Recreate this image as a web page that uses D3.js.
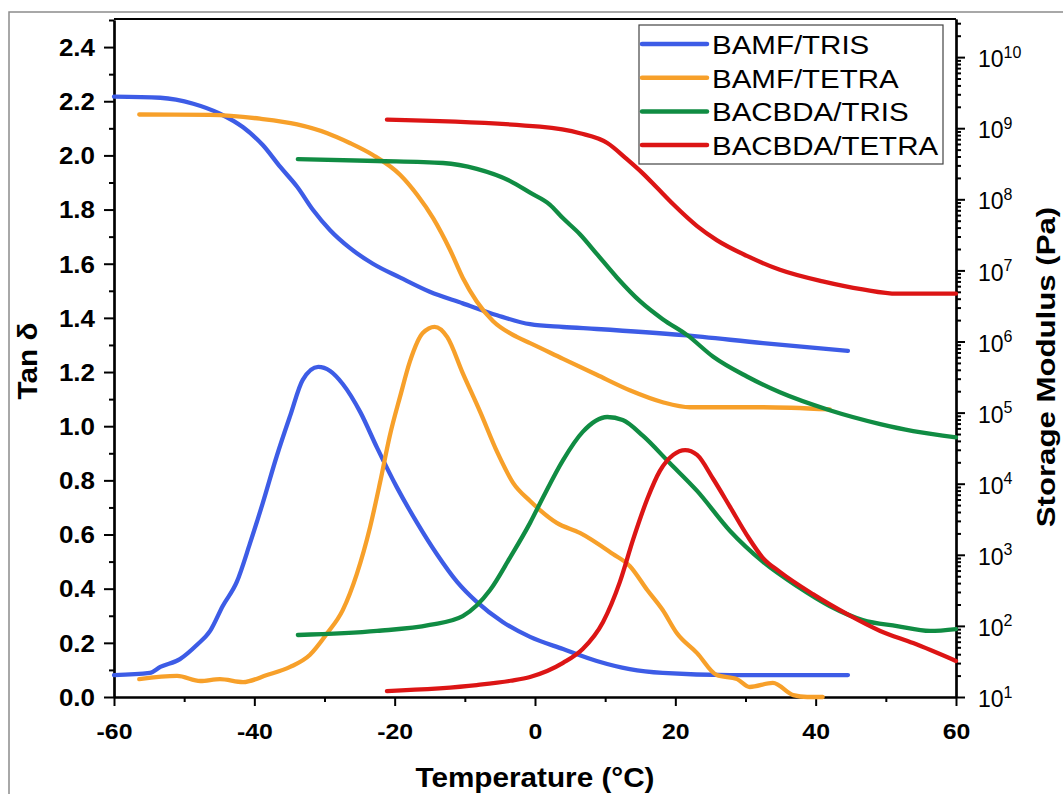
<!DOCTYPE html>
<html>
<head>
<meta charset="utf-8">
<script src="https://cdn.jsdelivr.net/npm/d3@7"></script>
<style>
  body { margin: 0; background: #fff; }
  svg { display: block; }
  text { font-family: Arial, "Liberation Sans", sans-serif; }
</style>
</head>
<body>
<div id="chart"></div>
<script>
// legend / series names
const seriesNames = ["BAMF/TRIS", "BAMF/TETRA", "BACBDA/TRIS", "BACBDA/TETRA"];

// tick values
const xTicks = [-60, -40, -20, 0, 20, 40, 60];
const xMinorTicks = [-50, -30, -10, 10, 30, 50];
const tanTicks = [0, 0.2, 0.4, 0.6, 0.8, 1.0, 1.2, 1.4, 1.6, 1.8, 2.0, 2.2, 2.4];
const tanMinorTicks = [0.1, 0.3, 0.5, 0.7, 0.9, 1.1, 1.3, 1.5, 1.7, 1.9, 2.1, 2.3, 2.5];
const modulusTicks = [1e1, 1e2, 1e3, 1e4, 1e5, 1e6, 1e7, 1e8, 1e9, 1e10];

// storage modulus (Pa) : [temperature °C, E']
const bamfTrisModulus = [[-60, 2.78e9], [-53.4, 2.68e9], [-48.7, 2.21e9], [-44.9, 1.6e9], [-41.6, 1.03e9],
  [-38.8, 5.8e8], [-36.3, 2.85e8], [-33.9, 1.5e8], [-31.6, 7.0e7], [-29.2, 3.67e7], [-26.4, 2.07e7],
  [-23.1, 1.24e7], [-19.2, 7.9e6], [-15.0, 5.0e6], [-10.3, 3.44e6], [-5.4, 2.34e6], [-0.7, 1.75e6],
  [4.0, 1.6e6], [8.8, 1.5e6], [21.1, 1.23e6], [32.5, 9.5e5], [44.6, 7.4e5]];
const bamfTetraModulus = [[-56.4, 1.56e9], [-46.3, 1.54e9], [-39.2, 1.36e9], [-33.9, 1.13e9], [-29.6, 8.5e8],
  [-26.4, 6.2e8], [-23.1, 4.2e8], [-19.2, 2.2e8], [-16.8, 1.16e8], [-14.5, 5.4e7], [-12.1, 1.94e7],
  [-10.3, 7.9e6], [-8.3, 3.66e6], [-6.0, 1.94e6], [-2.6, 1.16e6], [-0.7, 9.5e5], [4.0, 5.7e5],
  [8.8, 3.4e5], [13.5, 2.06e5], [18.2, 1.4e5], [22.1, 1.19e5], [32.5, 1.19e5], [42.0, 1.11e5]];
const bacbdaTrisModulus = [[-33.8, 3.67e8], [-22.5, 3.46e8], [-13.1, 3.24e8], [-8.3, 2.68e8], [-3.6, 1.82e8],
  [-0.7, 1.24e8], [2.1, 8.45e7], [4.0, 5.4e7], [6.4, 3.23e7], [8.8, 1.71e7], [11.7, 7.9e6], [15.0, 3.66e6],
  [18.2, 2.06e6], [21.7, 1.23e6], [25.4, 6.1e5], [30.2, 3.22e5], [34.9, 1.93e5], [42.0, 1.08e5],
  [49.2, 6.9e4], [53.9, 5.5e4], [60, 4.5e4]];
const bacbdaTetraModulus = [[-21.1, 1.32e9], [0.7, 1.05e9], [6.4, 8.5e8], [10.3, 6.2e8], [13.1, 3.67e8],
  [15.4, 2.3e8], [17.4, 1.45e8], [19.7, 8.5e7], [23.1, 4.2e7], [25.9, 2.67e7], [30.2, 1.6e7], [34.9, 1.02e7],
  [41.0, 7.0e6], [46.7, 5.4e6], [51.6, 4.7e6], [60, 4.7e6]];

// tan delta : [temperature °C, tan δ]
const bamfTrisTan = [[-60, 0.081], [-54.9, 0.089], [-53.4, 0.111], [-50.6, 0.14], [-48.2, 0.192], [-46.3, 0.244],
  [-44.5, 0.336], [-42.5, 0.425], [-40.6, 0.569], [-38.8, 0.716], [-36.8, 0.89], [-34.9, 1.038], [-33.1, 1.171],
  [-30.9, 1.219], [-29.2, 1.204], [-27.4, 1.156], [-24.9, 1.052], [-22.5, 0.92], [-19.7, 0.775], [-16.8, 0.643],
  [-14.0, 0.528], [-11.1, 0.425], [-8.3, 0.351], [-4.6, 0.277], [-0.7, 0.222], [4.0, 0.177], [8.8, 0.133],
  [13.5, 0.103], [18.2, 0.089], [27.8, 0.081], [44.6, 0.081]];
const bamfTetraTan = [[-56.4, 0.066], [-51.0, 0.078], [-47.7, 0.059], [-44.9, 0.066], [-41.6, 0.055], [-38.2, 0.081],
  [-34.9, 0.111], [-32.1, 0.155], [-29.6, 0.236], [-27.4, 0.321], [-25.4, 0.454], [-23.5, 0.628], [-22.1, 0.79],
  [-20.7, 0.964], [-19.2, 1.112], [-17.8, 1.241], [-16.0, 1.344], [-14.3, 1.367], [-12.5, 1.329], [-10.3, 1.196],
  [-7.8, 1.052], [-5.4, 0.905], [-3.1, 0.79], [-0.7, 0.724], [3.1, 0.643], [6.4, 0.606], [11.1, 0.528],
  [13.5, 0.484], [16.0, 0.395], [18.2, 0.321], [20.2, 0.236], [23.1, 0.162], [25.9, 0.081], [28.8, 0.066],
  [30.6, 0.037], [33.9, 0.052], [36.8, 0.007], [38.8, 0.0], [41.0, 0.0]];
const bacbdaTrisTan = [[-33.8, 0.229], [-22.5, 0.244], [-15.0, 0.266], [-10.3, 0.299], [-6.4, 0.395], [-3.6, 0.513],
  [-0.7, 0.643], [1.1, 0.735], [4.0, 0.875], [6.8, 0.979], [10.3, 1.034], [12.5, 1.023], [15.4, 0.964],
  [19.2, 0.864], [23.1, 0.761], [27.8, 0.613], [32.5, 0.499], [37.3, 0.41], [42.0, 0.336], [46.7, 0.284],
  [51.6, 0.262], [56.3, 0.244], [60, 0.251]];
const bacbdaTetraTan = [[-21.1, 0.022], [-8.3, 0.044], [-3.5, 0.06], [-0.7, 0.074], [4.0, 0.126], [6.8, 0.177],
  [9.7, 0.277], [12.1, 0.425], [14.0, 0.583], [16.0, 0.731], [17.8, 0.835], [19.7, 0.894], [21.4, 0.912],
  [23.1, 0.894], [25.4, 0.805], [27.8, 0.702], [30.2, 0.598], [32.5, 0.513], [34.9, 0.462], [39.6, 0.38],
  [44.5, 0.306], [49.2, 0.244], [53.9, 0.199], [60, 0.133]];

function dmaChart() {
  const width = 1063, height = 794;
  const plot = {left: 114, right: 956, top: 19, bottom: 697};
  const colors = ["#3d5ce6", "#f7a02a", "#108c43", "#dc1515"];
  const stretch = 1.13;   // the source text is a little wider than Arial

  const svg = d3.select("#chart").append("svg").attr("width", width).attr("height", height);

  // outer grey frame
  svg.append("rect").attr("x", 9).attr("y", 12).attr("width", width).attr("height", height)
     .attr("fill", "none").attr("stroke", "#8c8c8c").attr("stroke-width", 1.5);

  // scales
  const x = d3.scaleLinear().domain([-60, 60]).range([plot.left, plot.right]);
  const yTan = d3.scaleLinear().domain([0, 2.5]).range([plot.bottom, 20]);
  const yMod = d3.scaleLog().domain([10, Math.pow(10, 10.536)]).range([plot.bottom, plot.top]);

  const styleAxis = g => {
    g.selectAll("path.domain").attr("stroke", "#000").attr("stroke-width", 2.2);
    g.selectAll(".tick line").attr("stroke", "#000").attr("stroke-width", 2);
  };

  // x axis
  svg.append("g").attr("transform", `translate(0,${plot.bottom})`)
     .call(d3.axisBottom(x).tickValues(xMinorTicks).tickSize(5).tickSizeOuter(0).tickFormat(""))
     .call(styleAxis);
  const gx = svg.append("g").attr("transform", `translate(0,${plot.bottom})`)
     .call(d3.axisBottom(x).tickValues(xTicks).tickSize(9).tickSizeOuter(0).tickPadding(17).tickFormat(d3.format("d")))
     .call(styleAxis);
  gx.selectAll("text").attr("font-size", 22).attr("font-weight", "bold").attr("fill", "#000")
    .attr("font-family", "Arial, 'Liberation Sans', sans-serif").attr("transform", `scale(${stretch},1)`)
    .text(d => d < 0 ? "-" + Math.abs(d) : d);

  // left axis (tan delta)
  svg.append("g").attr("transform", `translate(${plot.left},0)`)
     .call(d3.axisLeft(yTan).tickValues(tanMinorTicks).tickSize(5).tickSizeOuter(0).tickFormat(""))
     .call(styleAxis);
  const gy = svg.append("g").attr("transform", `translate(${plot.left},0)`)
     .call(d3.axisLeft(yTan).tickValues(tanTicks).tickSize(10).tickSizeOuter(0).tickPadding(7).tickFormat(d3.format(".1f")))
     .call(styleAxis);
  gy.selectAll("text").attr("font-size", 23).attr("font-weight", "bold").attr("fill", "#000")
    .attr("font-family", "Arial, 'Liberation Sans', sans-serif").attr("dy", "0.36em")
    .attr("x", -19 / stretch).attr("transform", `scale(${stretch},1)`);

  // right axis (storage modulus, log)
  const minorMod = [];
  modulusTicks.forEach(m => { for (let k = 2; k <= 9; k++) if (m * k <= yMod.domain()[1]) minorMod.push(m * k); });
  svg.append("g").attr("transform", `translate(${plot.right},0)`)
     .call(d3.axisRight(yMod).tickValues(minorMod).tickSize(5).tickSizeOuter(0).tickFormat(""))
     .call(styleAxis);
  const gr = svg.append("g").attr("transform", `translate(${plot.right},0)`)
     .call(d3.axisRight(yMod).tickValues(modulusTicks).tickSize(9).tickSizeOuter(0).tickPadding(13).tickFormat(""))
     .call(styleAxis);
  gr.selectAll(".tick text").each(function(d) {
    const t = d3.select(this).attr("font-size", 23).attr("fill", "#000").attr("dy", "0.42em")
                .attr("font-family", "Arial, 'Liberation Sans', sans-serif");
    t.append("tspan").text("10");
    t.append("tspan").attr("font-size", 16).attr("dy", "-0.6em").text(Math.round(Math.log10(d)));
  });

  // top frame line
  svg.append("line").attr("x1", plot.left).attr("x2", plot.right).attr("y1", plot.top).attr("y2", plot.top)
     .attr("stroke", "#000").attr("stroke-width", 2.2);

  // curves
  const modLine = d3.line().x(d => x(d[0])).y(d => yMod(d[1])).curve(d3.curveMonotoneX);
  const tanLine = d3.line().x(d => x(d[0])).y(d => yTan(d[1])).curve(d3.curveMonotoneX);
  const modData = [bamfTrisModulus, bamfTetraModulus, bacbdaTrisModulus, bacbdaTetraModulus];
  const tanData = [bamfTrisTan, bamfTetraTan, bacbdaTrisTan, bacbdaTetraTan];

  const curves = svg.append("g").attr("fill", "none").attr("stroke-width", 4.3)
                    .attr("stroke-linecap", "round").attr("stroke-linejoin", "round");
  modData.forEach((s, i) => curves.append("path").attr("d", modLine(s)).attr("stroke", colors[i]));
  tanData.forEach((s, i) => curves.append("path").attr("d", tanLine(s)).attr("stroke", colors[i]));

  // legend
  const legend = svg.append("g");
  legend.append("rect").attr("x", 639).attr("y", 25).attr("width", 304).attr("height", 139)
        .attr("fill", "#fff").attr("stroke", "#444").attr("stroke-width", 1.2);
  const rowY = i => 44 + i * 33.7;
  legend.selectAll("line.key").data(seriesNames).join("line").attr("class", "key")
        .attr("x1", 642).attr("x2", 707).attr("y1", (d, i) => rowY(i)).attr("y2", (d, i) => rowY(i))
        .attr("stroke", (d, i) => colors[i]).attr("stroke-width", 4.5).attr("stroke-linecap", "round");
  legend.selectAll("text.lab").data(seriesNames).join("text").attr("class", "lab")
        .attr("transform", (d, i) => `translate(712,${rowY(i) + 10}) scale(1.18,1)`)
        .attr("font-size", 25).attr("fill", "#000").text(d => d);

  // axis titles
  svg.append("text").attr("transform", `translate(535,787) scale(1.1,1)`).attr("text-anchor", "middle")
     .attr("font-size", 27).attr("font-weight", "bold").text("Temperature (°C)");
  svg.append("text").attr("transform", "translate(37,361) rotate(-90) scale(1.1,1)").attr("text-anchor", "middle")
     .attr("font-size", 27).attr("font-weight", "bold").text("Tan δ");
  svg.append("text").attr("transform", "translate(1055,367) rotate(-90) scale(1.2,1)").attr("text-anchor", "middle")
     .attr("font-size", 26).attr("font-weight", "bold").text("Storage Modulus (Pa)");
}

dmaChart();
</script>
</body>
</html>
